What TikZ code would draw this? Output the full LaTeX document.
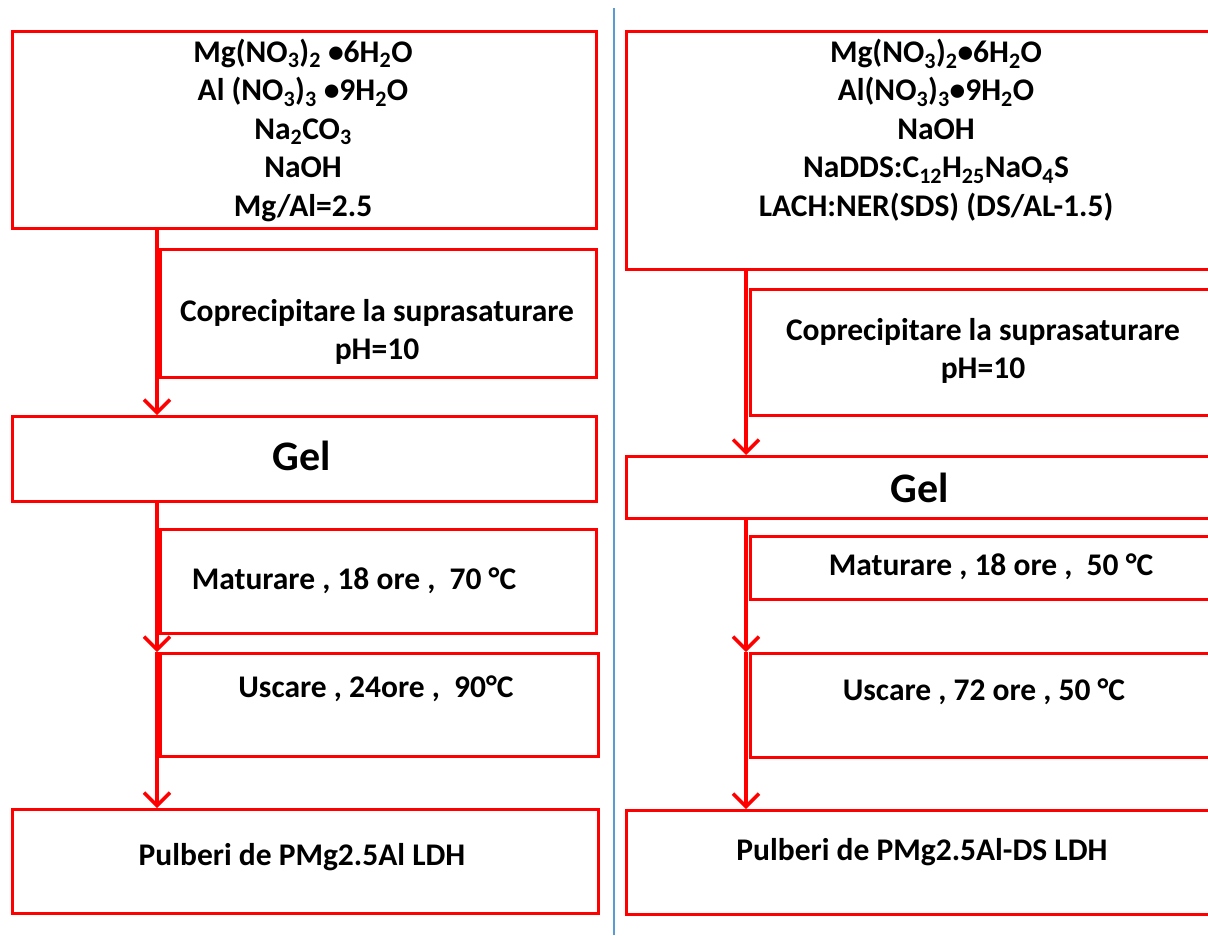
\documentclass[tikz,border=0pt]{standalone}
\usepackage{fontspec}
\setmainfont{Carlito}
\usetikzlibrary{arrows.meta}
\definecolor{rd}{RGB}{255,0,0}
\definecolor{bl}{RGB}{91,155,213}
\newcommand{\sbs}[1]{\textsubscript{#1}}
\begin{document}
\begin{tikzpicture}[x=1pt,y=-1pt,
  box/.style={draw=rd, line width=3pt, inner sep=0pt, anchor=north west},
  lbl/.style={font=\bfseries\fontsize{31.5}{38.5}\selectfont, align=center, text=black, inner sep=0pt},
  big/.style={font=\bfseries\fontsize{42}{46}\selectfont, text=black, inner sep=0pt},
  flow/.style={draw=rd, line width=4pt, -{Straight Barb[length=13pt,width=26pt,line width=3.5pt]}}]
\useasboundingbox (0,0) rectangle (1208,935);
\clip (0,0) rectangle (1208,935);
\fill[white] (0,0) rectangle (1208,935);
% divider
\draw[bl, line width=1.5pt] (614,8) -- (614,935);
% ---------- left column ----------
\coordinate (Lx) at (157,0);
\node[box, minimum width=584pt, minimum height=197pt] (L1) at (11,30) {};
\node[box, minimum width=436pt, minimum height=128pt] (L2) at (159,248) {};
\node[box, minimum width=584pt, minimum height=85pt] (L3) at (11,415) {};
\node[box, minimum width=436pt, minimum height=104pt] (L4) at (159,528) {};
\node[box, minimum width=438pt, minimum height=103pt] (L5) at (159,652) {};
\node[box, minimum width=586pt, minimum height=104pt] (L6) at (11,808) {};
\node[lbl] (L1t) at (303,130) {Mg(NO\sbs{3})\sbs{2} •6H\sbs{2}O\\Al (NO\sbs{3})\sbs{3} •9H\sbs{2}O\\Na\sbs{2}CO\sbs{3}\\NaOH\\Mg/Al=2.5};
\node[lbl] (L2t) at (377,332) {Coprecipitare la suprasaturare\\pH=10};
\node[big] (L3t) at (302,456) {Gel};
\node[lbl] (L4t) at (354,581) {Maturare , 18 ore ,\ \ 70 °C};
\node[lbl] (L5t) at (376,689) {Uscare , 24ore ,\ \ 90°C};
\node[lbl] (L6t) at (302,857) {Pulberi de PMg2.5Al LDH};
\draw[flow] (Lx |- L1.south) -- (Lx |- L3.north);
\draw[flow] (Lx |- L3.south) -- (Lx |- L5.north);
\draw[flow] (Lx |- L5.north) -- (Lx |- L6.north);
% ---------- right column ----------
\coordinate (Rx) at (746,0);
\node[box, minimum width=600pt, minimum height=238pt] (R1) at (625,30) {};
\node[box, minimum width=470pt, minimum height=126pt] (R2) at (749,288) {};
\node[box, minimum width=600pt, minimum height=62pt] (R3) at (625,455) {};
\node[box, minimum width=470pt, minimum height=63pt] (R4) at (749,535) {};
\node[box, minimum width=470pt, minimum height=104pt] (R5) at (749,652) {};
\node[box, minimum width=600pt, minimum height=104pt] (R6) at (625,809) {};
\node[lbl] (R1t) at (936,130) {Mg(NO\sbs{3})\sbs{2}•6H\sbs{2}O\\Al(NO\sbs{3})\sbs{3}•9H\sbs{2}O\\NaOH\\NaDDS:C\sbs{12}H\sbs{25}NaO\sbs{4}S\\LACH:NER(SDS) (DS/AL-1.5)};
\node[lbl] (R2t) at (983,351) {Coprecipitare la suprasaturare\\pH=10};
\node[big] (R3t) at (920,488) {Gel};
\node[lbl] (R4t) at (991,567) {Maturare , 18 ore ,\ \ 50 °C};
\node[lbl] (R5t) at (984,692) {Uscare , 72 ore , 50 °C};
\node[lbl] (R6t) at (922,852) {Pulberi de PMg2.5Al-DS LDH};
\draw[flow] (Rx |- R1.south) -- (Rx |- R3.north);
\draw[flow] (Rx |- R3.south) -- (Rx |- R5.north);
\draw[flow] (Rx |- R5.north) -- (Rx |- R6.north);
\end{tikzpicture}
\end{document}
